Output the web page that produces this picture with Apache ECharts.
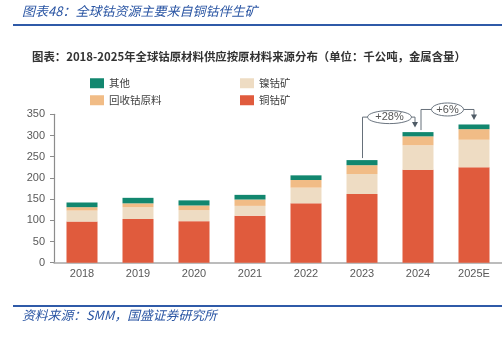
<!DOCTYPE html>
<html>
<head>
<meta charset="utf-8">
<script src="https://cdn.jsdelivr.net/npm/echarts@6/dist/echarts.min.js"></script>
<style>
html,body{margin:0;padding:0;background:#fff;}
#c{width:502px;height:339px;}
</style>
</head>
<body>
<div id="c"></div>
<script>
var categories = ['2018','2019','2020','2021','2022','2023','2024','2025E'];
var copperCobalt = [97, 103, 98, 111, 140, 162, 219, 225];
var nickelCobalt = [26, 28, 26, 23, 37, 47, 58, 65];
var recycled = [8, 9, 11, 15, 18, 21, 21, 25];
var others = [11, 13, 12, 11, 11, 12, 10, 11];
var yTicks = [0, 50, 100, 150, 200, 250, 300, 350];
var growthLabels = ['+28%', '+6%'];
var growthPairs = [[5, 6], [6, 7]];

var names = ['铜钴矿', '镍钴矿', '回收钴原料', '其他'];
var colors = ['#e05b3d', '#eedcc3', '#f1bc86', '#12876f'];
var dataSets = [copperCobalt, nickelCobalt, recycled, others];

var totals = categories.map(function (c, i) {
  return copperCobalt[i] + nickelCobalt[i] + recycled[i] + others[i];
});

var chart = echarts.init(document.getElementById('c'), null, {renderer: 'canvas'});
var FONT = 'Noto Sans CJK SC, Noto Sans, sans-serif';

function legendAt(name, left, top) {
  return {
    data: [name], left: left, top: top, padding: 0,
    itemWidth: 14, itemHeight: 10, itemGap: 0,
    icon: 'rect',
    textStyle: {color: '#404040', fontSize: 10.5, fontFamily: FONT, padding: [0, 0, 0, 0]},
    selectedMode: false
  };
}

var option = {
  animation: false,
  backgroundColor: '#ffffff',
  textStyle: {fontFamily: FONT},
  legend: [
    legendAt('其他', 90, 78),
    legendAt('回收钴原料', 90, 95),
    legendAt('镍钴矿', 240, 78),
    legendAt('铜钴矿', 240, 95)
  ],
  grid: {left: 54, top: 114.3, width: 451, height: 148.4, containLabel: false},
  xAxis: {
    type: 'category',
    data: categories,
    axisLine: {lineStyle: {color: '#a6a6a6', width: 1.5}},
    axisTick: {show: false},
    axisLabel: {color: '#595959', fontSize: 11, margin: 6, fontFamily: 'Liberation Sans, Arial, sans-serif'}
  },
  yAxis: {
    type: 'value',
    min: yTicks[0], max: yTicks[yTicks.length - 1], interval: 50,
    axisLine: {show: true, lineStyle: {color: '#8c8c8c', width: 1.2}},
    axisTick: {show: true, length: 4, lineStyle: {color: '#8c8c8c'}},
    splitLine: {show: false},
    axisLabel: {color: '#595959', fontSize: 11, margin: 9, fontFamily: 'Liberation Sans, Arial, sans-serif'}
  },
  series: names.map(function (n, k) {
    return {
      name: n, type: 'bar', stack: 'total', barWidth: 31,
      itemStyle: {color: colors[k]},
      data: dataSets[k]
    };
  }),
  graphic: []
};
chart.setOption(option);

var g = [];
// header
g.push({type: 'text', left: 22, top: 5, style: {text: '图表48：全球钴资源主要来自铜钴伴生矿', fill: '#2a55a3', font: 'italic 13px ' + FONT}});
g.push({type: 'rect', shape: {x: 13, y: 24, width: 489, height: 2}, style: {fill: '#2f5aa8'}});
g.push({type: 'text', left: 32, top: 51, style: {text: '图表：2018-2025年全球钴原材料供应按原材料来源分布（单位：千公吨，金属含量）', fill: '#333333', font: 'bold 11.4px ' + FONT}});
g.push({type: 'rect', shape: {x: 13, y: 305, width: 489, height: 2}, style: {fill: '#2f5aa8'}});
g.push({type: 'text', left: 22, top: 309, style: {text: '资料来源：SMM，国盛证券研究所', fill: '#2a55a3', font: 'italic 12.8px ' + FONT}});

var lineStyle = {stroke: '#66707a', lineWidth: 1, fill: null};
growthPairs.forEach(function (pair, j) {
  var a = chart.convertToPixel({xAxisIndex: 0, yAxisIndex: 0}, [pair[0], totals[pair[0]]]);
  var b = chart.convertToPixel({xAxisIndex: 0, yAxisIndex: 0}, [pair[1], totals[pair[1]]]);
  var ax = j === 0 ? a[0] + 0.5 : a[0] + 3;
  var bx = j === 0 ? b[0] - 3 : b[0];
  var ey = b[1] - 15;
  var cx = (a[0] + b[0]) / 2 - (j === 0 ? 0.5 : -1.5);
  var rx = j === 0 ? 22 : 16;
  var ry = 6.5;
  g.push({type: 'polyline', shape: {points: [[ax, a[1] - 2], [ax, ey], [cx - rx, ey]]}, style: lineStyle});
  g.push({type: 'polyline', shape: {points: [[cx + rx, ey], [bx, ey], [bx, b[1] - 9]]}, style: lineStyle});
  g.push({type: 'polygon', shape: {points: [[bx - 3, b[1] - 10], [bx + 3, b[1] - 10], [bx, b[1] - 4.5]]}, style: {fill: '#4f5b66'}});
  g.push({type: 'ellipse', shape: {cx: cx, cy: ey, rx: rx, ry: ry}, style: {fill: '#ffffff', stroke: '#6b7580', lineWidth: 1}});
  g.push({type: 'text', x: cx, y: ey, style: {text: growthLabels[j], fill: '#555555', font: '11px Liberation Sans, Arial, sans-serif', align: 'center', verticalAlign: 'middle'}});
});
chart.setOption({graphic: g});
</script>
</body>
</html>
